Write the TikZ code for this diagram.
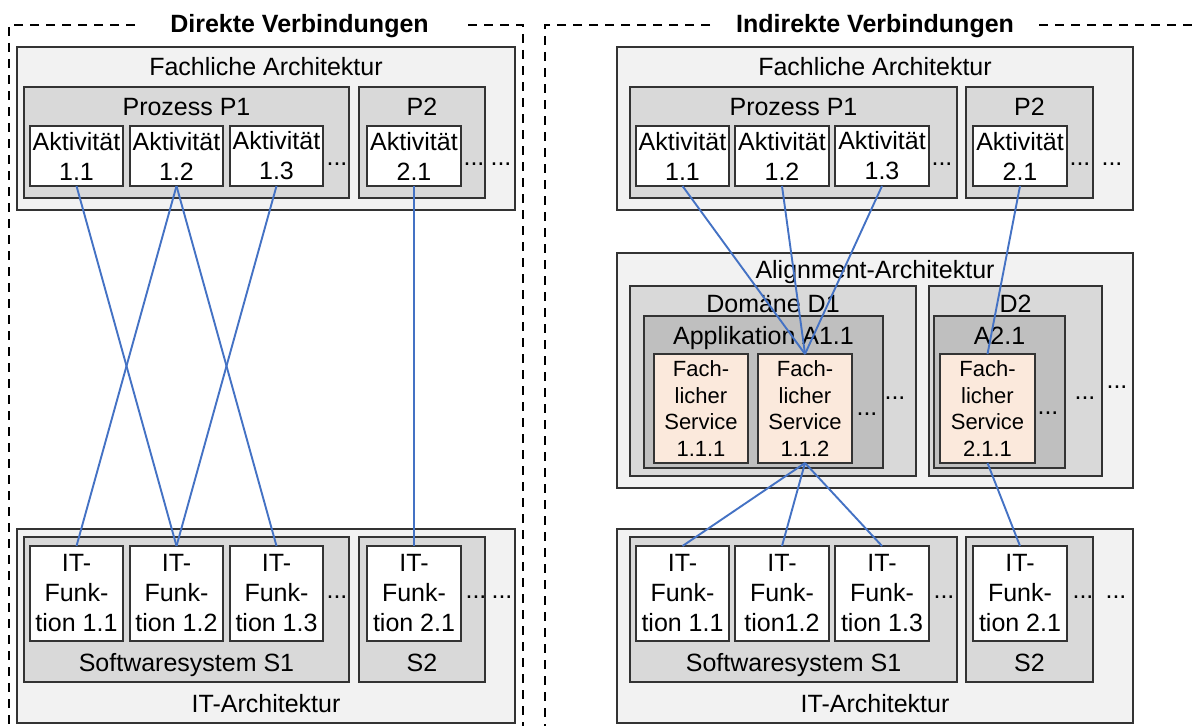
\documentclass[tikz,border=0pt]{standalone}
\usepackage{fontspec}
\setmainfont{Liberation Sans}
\usetikzlibrary{fit}

\definecolor{archfill}{HTML}{F2F2F2}
\definecolor{groupfill}{HTML}{D9D9D9}
\definecolor{appfill}{HTML}{BFBFBF}
\definecolor{svcfill}{HTML}{FBE9DC}
\definecolor{edgegray}{HTML}{333333}
\definecolor{linkblue}{HTML}{4472C4}

\tikzset{
  box/.style={draw=edgegray, line width=1.5pt, inner sep=0pt, outer sep=0pt},
  arch/.style={box, fill=archfill},
  grp/.style={box, fill=groupfill},
  app/.style={box, fill=appfill},
  dims/.style 2 args={minimum width=#1pt, minimum height=#2pt},
  item/.style={box, fill=white, align=center, font=\fontsize{25}{30}\selectfont},
  svc/.style={box, fill=svcfill, align=center, font=\fontsize{22}{26.7}\selectfont},
  lbl/.style={font=\fontsize{25}{30}\selectfont, inner sep=0pt, anchor=base},
  dots/.style={font=\fontsize{25}{30}\selectfont, inner sep=0pt, anchor=base},
  ttl/.style={font=\fontsize{25}{30}\selectfont\bfseries, inner sep=0pt, anchor=base},
  frame/.style={draw=black, line width=1.4pt, dash pattern=on 9pt off 7pt},
  link/.style={draw=linkblue, line width=1.9pt},
}

\begin{document}
\begin{tikzpicture}[x=1pt, y=-1pt]
\useasboundingbox (0,0) rectangle (1198,725);

% ---------------- left panel: direct links ----------------
\node[arch, fit={(17,47) (515,210)}] (lfach) {};
\node[grp, fit={(24,87) (349,198)}] (lp1) {};
\node[grp, fit={(359,87) (485,198)}] (lp2) {};
\node[item, dims={93}{60}] (la11) at (76.5,156) {Aktivität\\1.1};
\node[item, dims={93}{60}] (la12) at (176.5,156) {Aktivität\\1.2};
\node[item, dims={93}{60}] (la13) at (276.5,156) {Aktivität\\1.3};
\node[item, dims={94}{60}] (la21) at (414,156) {Aktivität\\2.1};
\node[lbl] (lfachT) at (266,75) {Fachliche Architektur};
\node[lbl] (lp1T) at (186.5,115) {Prozess P1};
\node[lbl] (lp2T) at (422,115) {P2};
\node[dots] (ld1) at (337,165) {...};
\node[dots] (ld2) at (474,165) {...};
\node[dots] (ld3) at (501,165) {...};

\node[arch, fit={(17,529) (515,723)}] (lit) {};
\node[grp, fit={(24,537) (349,682)}] (ls1) {};
\node[grp, fit={(359,537) (485,682)}] (ls2) {};
\node[item, dims={93}{95}] (lf11) at (76.5,593.5) {IT-\\Funk-\\tion 1.1};
\node[item, dims={93}{95}] (lf12) at (176.5,593.5) {IT-\\Funk-\\tion 1.2};
\node[item, dims={93}{95}] (lf13) at (276.5,593.5) {IT-\\Funk-\\tion 1.3};
\node[item, dims={94}{95}] (lf21) at (414,593.5) {IT-\\Funk-\\tion 2.1};
\node[lbl] (ls1T) at (186.5,671) {Softwaresystem S1};
\node[lbl] (ls2T) at (422,671) {S2};
\node[lbl] (litT) at (266,712) {IT-Architektur};
\node[dots] (ld4) at (337,598) {...};
\node[dots] (ld5) at (476,598) {...};
\node[dots] (ld6) at (502,598) {...};

% ---------------- right panel: indirect links ----------------
\node[arch, fit={(617,47) (1133,210)}] (rfach) {};
\node[grp, fit={(630,87) (957,198)}] (rp1) {};
\node[grp, fit={(966,87) (1093,198)}] (rp2) {};
\node[item, dims={93}{60}] (ra11) at (682.5,156) {Aktivität\\1.1};
\node[item, dims={94}{60}] (ra12) at (782,156) {Aktivität\\1.2};
\node[item, dims={94}{60}] (ra13) at (882,156) {Aktivität\\1.3};
\node[item, dims={94}{60}] (ra21) at (1020,156) {Aktivität\\2.1};
\node[lbl] (rfachT) at (875,75) {Fachliche Architektur};
\node[lbl] (rp1T) at (793.5,115) {Prozess P1};
\node[lbl] (rp2T) at (1029.5,115) {P2};
\node[dots] (rd1d) at (942,165) {...};
\node[dots] (rd2d) at (1080,165) {...};
\node[dots] (rd3d) at (1112,165) {...};

\node[arch, fit={(617,253) (1133,488)}] (ralign) {};
\node[grp, fit={(630,286) (916,476)}] (rdom1) {};
\node[app, fit={(644,316) (883,468)}] (rapp1) {};
\node[svc, dims={94}{109}] (rs111) at (701,408.5) {Fach-\\licher\\Service\\1.1.1};
\node[svc, dims={94}{109}] (rs112) at (805,408.5) {Fach-\\licher\\Service\\1.1.2};
\node[grp, fit={(929,286) (1102,476)}] (rdom2) {};
\node[app, fit={(934,316) (1065,468)}] (rapp2) {};
\node[svc, dims={95}{109}] (rs211) at (987.5,408.5) {Fach-\\licher\\Service\\2.1.1};
\node[lbl] (ralignT) at (875,278) {Alignment-Architektur};
\node[lbl] (rdom1T) at (773,312) {Domäne D1};
\node[lbl] (rapp1T) at (763.5,344) {Applikation A1.1};
\node[lbl] (rdom2T) at (1015.5,312) {D2};
\node[lbl] (rapp2T) at (999.5,344) {A2.1};
\node[dots] (rd4d) at (867,415) {...};
\node[dots] (rd5d) at (895,399) {...};
\node[dots] (rd6d) at (1048,414) {...};
\node[dots] (rd7d) at (1085,399) {...};
\node[dots] (rd8d) at (1117,388) {...};

\node[arch, fit={(617,529) (1133,723)}] (rit) {};
\node[grp, fit={(630,537) (957,682)}] (rsys1) {};
\node[grp, fit={(966,537) (1093,682)}] (rsys2) {};
\node[item, dims={93}{95}] (rf11) at (682.5,593.5) {IT-\\Funk-\\tion 1.1};
\node[item, dims={94}{95}] (rf12) at (782,593.5) {IT-\\Funk-\\tion1.2};
\node[item, dims={94}{95}] (rf13) at (882,593.5) {IT-\\Funk-\\tion 1.3};
\node[item, dims={94}{95}] (rf21) at (1020,593.5) {IT-\\Funk-\\tion 2.1};
\node[lbl] (rsys1T) at (793.5,671) {Softwaresystem S1};
\node[lbl] (rsys2T) at (1029.5,671) {S2};
\node[lbl] (ritT) at (875,712) {IT-Architektur};
\node[dots] (rd9d) at (944,598) {...};
\node[dots] (rd10d) at (1083,598) {...};
\node[dots] (rd11d) at (1116,598) {...};

% ---------------- connectors ----------------
\draw[link] (la11.south) -- (lf12.north);
\draw[link] (la12.south) -- (lf11.north);
\draw[link] (la12.south) -- (lf13.north);
\draw[link] (la13.south) -- (lf12.north);
\draw[link] (la21.south) -- (lf21.north);

\draw[link] (ra11.south) -- (rs112.north);
\draw[link] (ra12.south) -- (rs112.north);
\draw[link] (ra13.south) -- (rs112.north);
\draw[link] (ra21.south) -- (rs211.north);
\draw[link] (rs112.south) -- (rf11.north);
\draw[link] (rs112.south) -- (rf12.north);
\draw[link] (rs112.south) -- (rf13.north);
\draw[link] (rs211.south) -- (rf21.north);

% ---------------- dashed frames with titles ----------------
\draw[frame] (135,25) -- (9,25) -- (9,730);
\draw[frame] (468,25) -- (523,25) -- (523,730);
\draw[frame] (710,25) -- (545,25) -- (545,730);
\draw[frame] (1039,25) -- (1205,25);
\node[ttl] (ltitle) at (299.5,33) {Direkte Verbindungen};
\node[ttl] (rtitle) at (875,33) {Indirekte Verbindungen};
\end{tikzpicture}
\end{document}
